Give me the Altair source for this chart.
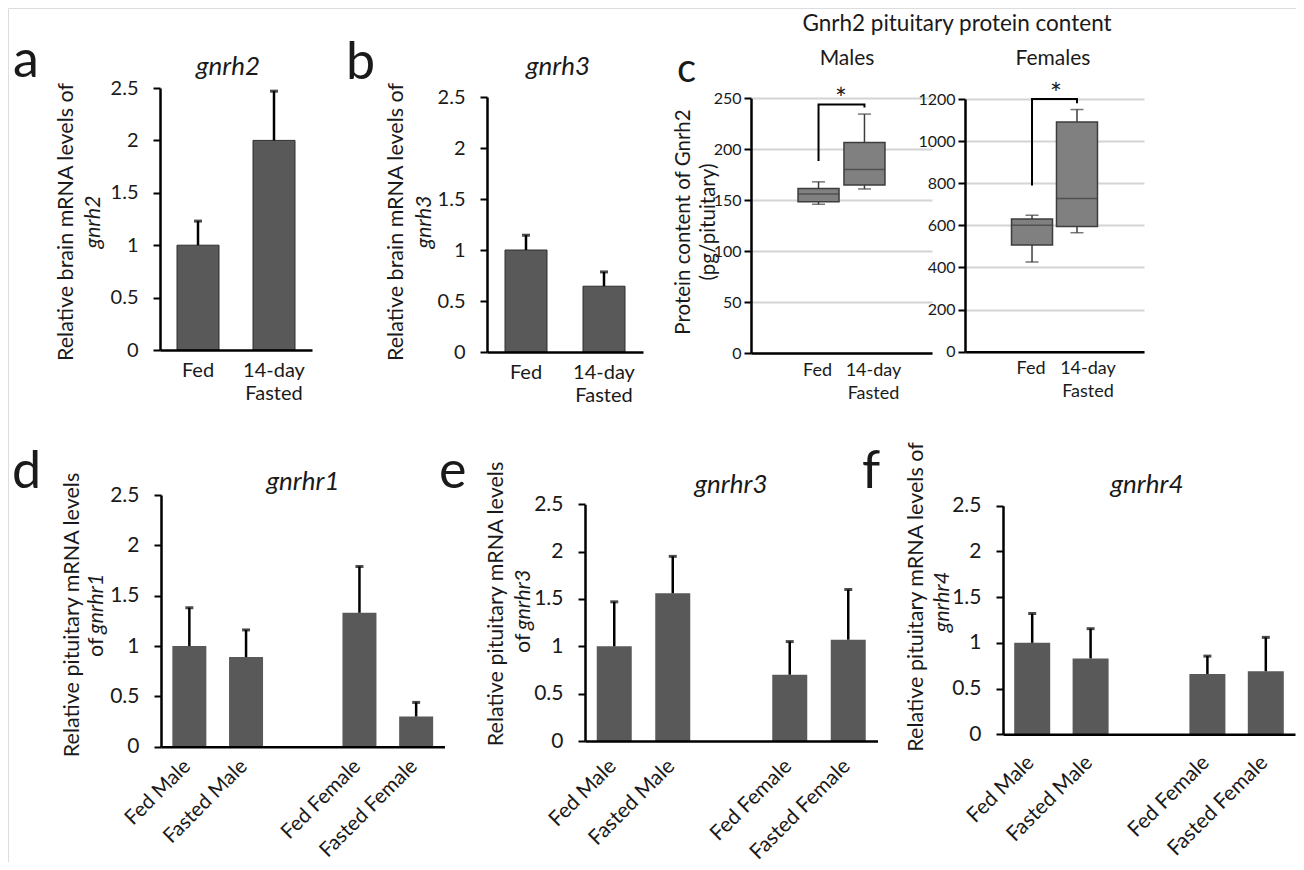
import altair as alt
import pandas as pd

# ---------------- data ----------------
cats_ab = ["Fed", "14-day Fasted"]
a_vals = [1.0, 2.0]
a_upper = [1.23, 2.47]
b_vals = [1.0, 0.645]
b_upper = [1.145, 0.785]

cats_def_domain = ["Fed Male", "Fasted Male", "gap", "Fed Female", "Fasted Female"]
cats_def = ["Fed Male", "Fasted Male", "Fed Female", "Fasted Female"]
d_vals = [1.0, 0.89, 1.33, 0.30]
d_upper = [1.38, 1.16, 1.79, 0.44]
e_vals = [1.0, 1.56, 0.70, 1.07]
e_upper = [1.47, 1.95, 1.05, 1.60]
f_vals = [1.0, 0.83, 0.66, 0.69]
f_upper = [1.32, 1.155, 0.855, 1.06]

male_min = [146, 161]
male_q1 = [148.5, 165]
male_med = [156, 180]
male_q3 = [161.5, 206.5]
male_max = [168, 234.5]

female_min = [426, 565]
female_q1 = [507, 594]
female_med = [600, 727]
female_q3 = [630, 1091]
female_max = [648, 1150]

bracket_cats = ["Fed", "Fed", "14-day Fasted", "14-day Fasted"]
male_bracket_y = [188.5, 244, 244, 241]
female_bracket_y = [789, 1200, 1200, 1180]

mrna_ticks = [0, 0.5, 1, 1.5, 2, 2.5]
male_ticks = [0, 50, 100, 150, 200, 250]
female_ticks = [0, 200, 400, 600, 800, 1000, 1200]

# ---------------- style / layout helpers ----------------
P = 8
W, H = 1288, 854
FONT = "Lato"
TXT = "#1a1a1a"
BAR = "#595959"
BOX = "#808080"
BOXLINE = "#3d3d3d"


def px(v):
    return v - P


def y_scale(domain, y_zero, y_top):
    return alt.Scale(domain=domain, range=[px(y_zero), px(y_top)], nice=False, zero=False)


def x_band(domain, x0, x1, pad_outer=0.0):
    return alt.Scale(type="band", domain=domain, range=[px(x0), px(x1)],
                     paddingInner=0, paddingOuter=pad_outer)


def y_axis(x_pos, values, fmt, size, grid=False, pad=15, z=1):
    kw = dict(orient="left", offset=-px(x_pos), values=values, format=fmt, title=None,
              domainColor="black", domainWidth=2.5, tickColor="black", tickWidth=2,
              tickSize=7, labelFont=FONT, labelFontSize=size, labelColor=TXT,
              labelPadding=pad, grid=grid, zindex=z)
    if grid:
        kw.update(gridColor="#d4d4d4", gridWidth=2)
    return alt.Axis(**kw)


def x_axis(y_pos, size, expr, pad=10, rotated=False, fasted_shift=0):
    kw = dict(orient="bottom", offset=px(y_pos) - H, title=None, ticks=False, tickSize=0,
              domainColor="black", domainWidth=2.5, labelFont=FONT, labelFontSize=size,
              labelColor=TXT, labelPadding=pad, labelExpr=expr,
              labelOverlap=False, labelLineHeight=23, zindex=1)
    if rotated:
        kw.update(labelAngle=-45, labelAlign="right", labelBaseline="top", labelOffset=-9)
    else:
        kw.update(labelAngle=0)
        if fasted_shift:
            kw.update(labelOffset={"condition": {"test": "datum.value == '14-day Fasted'",
                                                 "value": fasted_shift},
                                   "value": -1})
    return alt.Axis(**kw)


def text_layer(s, x, y, size, angle=0, align="center", baseline="alphabetic", italic=False):
    return alt.Chart(pd.DataFrame({"t": [s]})).mark_text(
        font=FONT, fontSize=size, angle=angle, align=align, baseline=baseline,
        fontStyle="italic" if italic else "normal", color=TXT
    ).encode(x=alt.value(px(x)), y=alt.value(px(y)), text="t:N")


MULTI = "datum.value == '14-day Fasted' ? ['14-day', 'Fasted'] : datum.label"
GAP = "datum.value == 'gap' ? '' : datum.label"


def bar_panel(domain, cats, vals, ups, x0, x1, y_zero, y_top, bar_size, tick_size,
              label_size, label_expr, label_pad, rotated, outline):
    df = pd.DataFrame({"cat": cats, "val": vals, "up": ups})
    xs = x_band(domain, x0, x1)
    ys = y_scale([0, 2.5], y_zero, y_top)
    base = alt.Chart(df)
    bar_kw = dict(color=BAR, size=bar_size)
    if outline:
        bar_kw.update(stroke="#2e2e2e", strokeWidth=1)
    bars = base.mark_bar(**bar_kw).encode(
        x=alt.X("cat:N", scale=xs,
                axis=x_axis(y_zero, label_size, label_expr, pad=label_pad, rotated=rotated)),
        y=alt.Y("val:Q", scale=ys, axis=y_axis(x0, mrna_ticks, "~g", tick_size)),
    )
    err = base.mark_rule(color="black", strokeWidth=2.5).encode(
        x=alt.X("cat:N", scale=xs, axis=None),
        y=alt.Y("val:Q", scale=ys, axis=None),
        y2="up:Q",
    )
    cap = base.mark_tick(color="black", thickness=3, size=8).encode(
        x=alt.X("cat:N", scale=xs, axis=None),
        y=alt.Y("up:Q", scale=ys, axis=None),
    )
    return [bars, err, cap]


def box_panel(mins, q1, med, q3, maxs, br_y, x0, x1, pad_outer, y_zero, y_top, dom, ticks, shift):
    df = pd.DataFrame({"cat": cats_ab, "mn": mins, "q1": q1, "md": med, "q3": q3, "mx": maxs})
    xs = x_band(cats_ab, x0, x1, pad_outer)
    ys = y_scale(dom, y_zero, y_top)
    base = alt.Chart(df)
    whisk = base.mark_rule(color=BOXLINE, strokeWidth=1.5).encode(
        x=alt.X("cat:N", scale=xs, axis=x_axis(y_zero, 18, MULTI, pad=8, fasted_shift=shift)),
        y=alt.Y("mn:Q", scale=ys, axis=y_axis(x0, ticks, "d", 16, grid=True, pad=3, z=0)),
        y2="mx:Q",
    )
    box = base.mark_bar(size=41, fill=BOX, stroke=BOXLINE, strokeWidth=1.5).encode(
        x=alt.X("cat:N", scale=xs, axis=None),
        y=alt.Y("q1:Q", scale=ys, axis=None),
        y2="q3:Q",
    )
    median = base.mark_tick(color=BOXLINE, thickness=1.5, size=41).encode(
        x=alt.X("cat:N", scale=xs, axis=None),
        y=alt.Y("md:Q", scale=ys, axis=None),
    )
    cap_lo = base.mark_tick(color=BOXLINE, thickness=1.5, size=13).encode(
        x=alt.X("cat:N", scale=xs, axis=None),
        y=alt.Y("mn:Q", scale=ys, axis=None),
    )
    cap_hi = base.mark_tick(color=BOXLINE, thickness=1.5, size=13).encode(
        x=alt.X("cat:N", scale=xs, axis=None),
        y=alt.Y("mx:Q", scale=ys, axis=None),
    )
    bdf = pd.DataFrame({"cat": bracket_cats, "y": br_y, "o": [0, 1, 2, 3]})
    bracket = alt.Chart(bdf).mark_line(color="black", strokeWidth=2).encode(
        x=alt.X("cat:N", scale=xs, axis=None),
        y=alt.Y("y:Q", scale=ys, axis=None),
        order="o:Q",
    )
    return [whisk, box, median, cap_lo, cap_hi, bracket]


layers = []
# panel a
layers += bar_panel(cats_ab, cats_ab, a_vals, a_upper, 160, 312, 350, 88, 42, 20, 20, MULTI, 10, False, True)
# panel b
layers += bar_panel(cats_ab, cats_ab, b_vals, b_upper, 487, 643, 352, 97, 42, 20, 20, MULTI, 10, False, True)
# panel c
layers += box_panel(male_min, male_q1, male_med, male_q3, male_max, male_bracket_y,
                    751, 932, 0.97, 353, 98.3, [0, 250], male_ticks, 9)
layers += box_panel(female_min, female_q1, female_med, female_q3, female_max, female_bracket_y,
                    965, 1144, 0.99, 351.7, 99, [0, 1200], female_ticks, 11)
# panels d, e, f
layers += bar_panel(cats_def_domain, cats_def, d_vals, d_upper, 161, 444.5, 746.7, 495, 34, 21, 20.5, GAP, 9, True, False)
layers += bar_panel(cats_def_domain, cats_def, e_vals, e_upper, 585, 877.5, 741, 504.3, 35, 21, 21, GAP, 14, True, False)
layers += bar_panel(cats_def_domain, cats_def, f_vals, f_upper, 1003, 1295, 734.3, 505.7, 36, 21, 21, GAP, 17, True, False)

# panel letters
for s, x, y, sz in [("a", 13, 77, 52), ("b", 346, 79, 52), ("c", 677, 82, 40),
                    ("d", 12, 488, 52), ("e", 439, 488, 52), ("f", 862, 488, 52)]:
    layers.append(text_layer(s, x, y, sz, align="left"))

# panel titles
for s, x, y in [("gnrh2", 228, 75), ("gnrh3", 558, 75), ("gnrhr1", 303, 490),
                ("gnrhr3", 731, 493), ("gnrhr4", 1147, 493)]:
    layers.append(text_layer(s, x, y, 26, italic=True))
layers.append(text_layer("Gnrh2 pituitary protein content", 957, 31, 22.5))
layers.append(text_layer("Males", 847, 65, 21))
layers.append(text_layer("Females", 1053, 65, 21))
layers.append(text_layer("*", 841, 109, 28))
layers.append(text_layer("*", 1056, 104, 28))

# y axis titles (rotated)
AT = 21.5
rot = dict(angle=270, baseline="middle")
layers.append(text_layer("Relative brain mRNA levels of", 67, 222, AT, **rot))
layers.append(text_layer("gnrh2", 94, 222, AT, italic=True, **rot))
layers.append(text_layer("Relative brain mRNA levels of", 397, 222, AT, **rot))
layers.append(text_layer("gnrh3", 425, 222, AT, italic=True, **rot))
layers.append(text_layer("Protein content of Gnrh2", 684, 222, 20.5, **rot))
layers.append(text_layer("(pg/pituitary)", 709, 222, 20.5, **rot))
layers.append(text_layer("Relative pituitary mRNA levels", 73, 615, AT, **rot))
layers.append(text_layer("of", 97, 657, AT, align="left", **rot))
layers.append(text_layer("gnrhr1", 97, 634, AT, align="left", italic=True, **rot))
layers.append(text_layer("Relative pituitary  mRNA levels", 497, 604, AT, **rot))
layers.append(text_layer("of", 524, 653, AT, align="left", **rot))
layers.append(text_layer("gnrhr3", 524, 630, AT, align="left", italic=True, **rot))
layers.append(text_layer("Relative pituitary mRNA levels of", 917, 597, AT, **rot))
layers.append(text_layer("gnrhr4", 943, 602, AT, italic=True, **rot))

chart = (
    alt.layer(*layers)
    .resolve_scale(x="independent", y="independent")
    .resolve_axis(x="independent", y="independent")
    .properties(width=W, height=H, padding=0, autosize=alt.AutoSizeParams(type="none"))
    .configure_view(strokeWidth=0)
    .configure(background="white")
)

chart.save("out.html", embed_options={"renderer": "svg", "actions": False})
